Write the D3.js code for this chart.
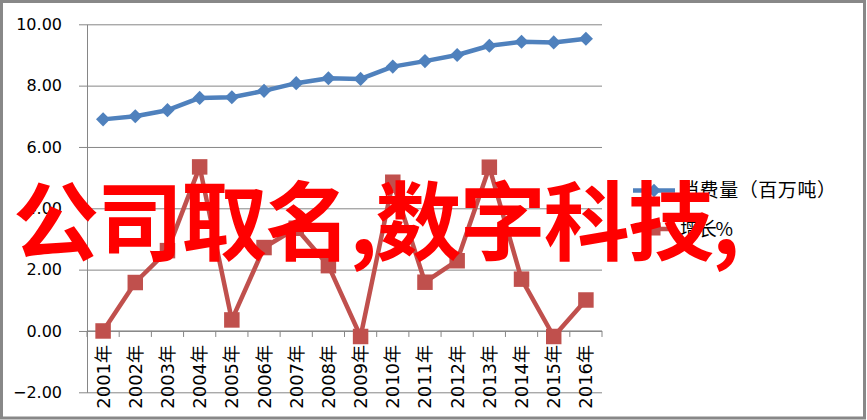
<!DOCTYPE html>
<html lang="zh">
<head>
<meta charset="UTF-8">
<title>消费量与增长</title>
<script src="https://cdn.jsdelivr.net/npm/d3@7"></script>
<style>
    body { margin: 0; background: #fff; }
    text { font-family: "DejaVu Sans", "Noto Sans CJK SC", sans-serif; fill: #000; }
    .grid line { stroke: #868686; stroke-width: 1; }
    .grid path { display: none; }
    .yaxis path, .yaxis line { stroke: #868686; }
    .legend text { font-family: "Noto Sans CJK SC", sans-serif; font-size: 19px; }
    .overlay { font-family: "Noto Sans CJK SC", sans-serif; font-weight: bold; fill: #ff0000; }
</style>
</head>
<body>
<svg id="chart" width="867" height="420"></svg>
<script>
    // 数据
    var years = ["2001年", "2002年", "2003年", "2004年", "2005年", "2006年", "2007年", "2008年",
                 "2009年", "2010年", "2011年", "2012年", "2013年", "2014年", "2015年", "2016年"];
    var consumption = [6.9, 7.0, 7.2, 7.6, 7.62, 7.83, 8.08, 8.24, 8.22, 8.62, 8.8, 9.0, 9.3, 9.43, 9.41, 9.53];
    var growth = [0.0, 1.58, 2.62, 5.35, 0.36, 2.72, 3.35, 2.13, -0.18, 4.85, 1.59, 2.29, 5.34, 1.69, -0.18, 1.01];
    var yTicks = [-2, 0, 2, 4, 6, 8, 10];
    var seriesNames = ["消费量（百万吨）", "增长%"];

    var svg = d3.select("#chart");
    var pL = 87, pR = 602, pT = 24.3, pB = 392.3;

    var x = d3.scaleBand().domain(years).range([pL, pR]);
    var y = d3.scaleLinear().domain([-2, 10]).range([pB, pT]);
    var cx = function (d, i) { return x(years[i]) + x.bandwidth() / 2; };

    // 外框
    svg.append("rect")
        .attr("x", 1.5).attr("y", 1.5)
        .attr("width", 863).attr("height", 416.5)
        .attr("fill", "#fff")
        .attr("stroke", "#888").attr("stroke-width", 3);

    // 网格线
    svg.append("g")
        .attr("class", "grid")
        .attr("transform", "translate(" + pL + ",0)")
        .call(d3.axisRight(y).tickValues(yTicks).tickSize(pR - pL).tickFormat(""));

    // 纵轴
    var yAxis = svg.append("g")
        .attr("class", "yaxis")
        .attr("transform", "translate(" + pL + ",0)")
        .call(d3.axisLeft(y).tickValues(yTicks).tickSize(8).tickSizeOuter(0)
            .tickPadding(17).tickFormat(d3.format(".2f")));
    yAxis.attr("font-family", null).attr("font-size", null);
    yAxis.selectAll("text").style("font-size", "16px");

    // 横轴（在0处）
    var y0 = y(0);
    var xg = svg.append("g");
    xg.append("line")
        .attr("x1", pL).attr("x2", pR)
        .attr("y1", y0).attr("y2", y0)
        .attr("stroke", "#868686");
    xg.selectAll(".tick")
        .data(years.concat(["end"]))
        .enter().append("line")
        .attr("x1", function (d, i) { return pL + i * x.step(); })
        .attr("x2", function (d, i) { return pL + i * x.step(); })
        .attr("y1", y0).attr("y2", y0 + 6)
        .attr("stroke", "#868686");
    xg.selectAll("text")
        .data(years)
        .enter().append("text")
        .attr("transform", function (d, i) { return "translate(" + cx(d, i) + "," + (y0 + 14) + ") rotate(-90)"; })
        .attr("text-anchor", "end")
        .attr("dy", "0.36em")
        .style("font-size", "18px")
        .text(function (d) { return d; });

    var line = d3.line()
        .x(cx)
        .y(function (d) { return y(d); });

    // 消费量
    svg.append("path")
        .attr("d", line(consumption))
        .attr("fill", "none")
        .attr("stroke", "#4f81bd")
        .attr("stroke-width", 4.5)
        .attr("stroke-linejoin", "round");
    svg.selectAll(".dia")
        .data(consumption)
        .enter().append("path")
        .attr("d", d3.symbol(d3.symbolSquare, 100)())
        .attr("transform", function (d, i) { return "translate(" + cx(d, i) + "," + y(d) + ") rotate(45)"; })
        .attr("fill", "#4f81bd");

    // 增长%
    svg.append("path")
        .attr("d", line(growth))
        .attr("fill", "none")
        .attr("stroke", "#c0504d")
        .attr("stroke-width", 4.5)
        .attr("stroke-linejoin", "round");
    svg.selectAll(".sq")
        .data(growth)
        .enter().append("path")
        .attr("d", d3.symbol(d3.symbolSquare, 240)())
        .attr("transform", function (d, i) { return "translate(" + cx(d, i) + "," + y(d) + ")"; })
        .attr("fill", "#c0504d");

    // 图例
    var legend = svg.append("g").attr("class", "legend");
    var legendRows = [
        { name: seriesNames[0], color: "#4f81bd", ly: 190.5, shape: "d", w: 156 },
        { name: seriesNames[1], color: "#c0504d", ly: 229, shape: "s", w: 53 }
    ];
    legendRows.forEach(function (r) {
        legend.append("line")
            .attr("x1", 633).attr("x2", 675)
            .attr("y1", r.ly).attr("y2", r.ly)
            .attr("stroke", r.color).attr("stroke-width", 4.5);
        legend.append("path")
            .attr("d", d3.symbol(d3.symbolSquare, r.shape === "d" ? 90 : 170)())
            .attr("transform", "translate(654," + r.ly + ")" + (r.shape === "d" ? " rotate(45)" : ""))
            .attr("fill", r.color);
        legend.append("text")
            .attr("x", 680).attr("y", r.ly)
            .attr("dy", "0.36em")
            .attr("textLength", r.w)
            .attr("lengthAdjust", "spacing")
            .text(r.name);
    });

    // 覆盖文字
    svg.append("text")
        .attr("class", "overlay")
        .attr("x", 13).attr("y", 254)
        .attr("textLength", 727)
        .attr("lengthAdjust", "spacing")
        .style("font-size", "86px")
        .text("公司取名,数字科技,");
</script>
</body>
</html>
